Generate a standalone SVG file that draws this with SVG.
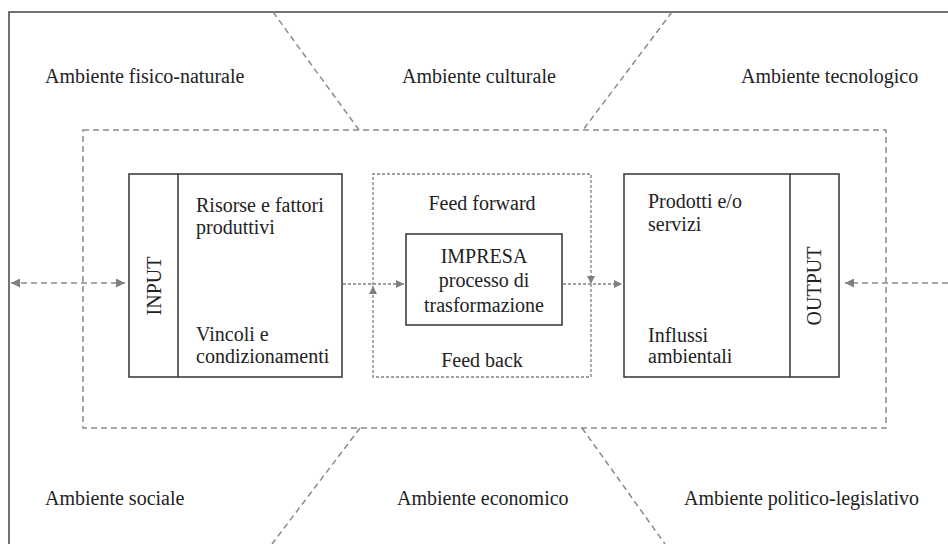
<svg xmlns="http://www.w3.org/2000/svg" width="948" height="544" viewBox="0 0 948 544" font-family="'Liberation Serif', 'Times New Roman', 'DejaVu Serif', serif">
<defs>
<marker id="ah" viewBox="0 0 10 10" refX="10" refY="5" markerWidth="9" markerHeight="9" markerUnits="userSpaceOnUse" orient="auto-start-reverse">
<path d="M0,0 L10,5 L0,10 z" fill="#808080"/>
</marker>
<marker id="ahs" viewBox="0 0 10 10" refX="10" refY="5" markerWidth="8" markerHeight="8" markerUnits="userSpaceOnUse" orient="auto">
<path d="M0,0 L10,5 L0,10 z" fill="#808080"/>
</marker>
</defs>
<style>
text{font-family:'Liberation Serif','Times New Roman','DejaVu Serif',serif;font-size:20px;fill:#222}
.box{fill:#fff;stroke:#333;stroke-width:1.5}
.frame{fill:none;stroke:#444;stroke-width:1.5}
.dash{fill:none;stroke:#8a8a8a;stroke-width:1.5;stroke-dasharray:6 4}
.dot{fill:none;stroke:#808080;stroke-width:1.3;stroke-dasharray:3 2}
.mid{text-anchor:middle}
</style>
<rect width="948" height="544" fill="#fff"/>
<g id="frame">
<path class="frame" d="M948,12 L9,12 L9,544"/>
</g>
<g id="environment">
<rect class="dash" x="83" y="130" width="803" height="298"/>
<line class="dash" x1="273" y1="12" x2="359" y2="130"/>
<line class="dash" x1="672" y1="12" x2="583" y2="130"/>
<line class="dash" x1="360" y1="428" x2="272" y2="544"/>
<line class="dash" x1="582" y1="428" x2="665" y2="544"/>
<text x="45" y="83">Ambiente fisico-naturale</text>
<text x="402" y="83">Ambiente culturale</text>
<text x="741" y="83">Ambiente tecnologico</text>
<text x="45" y="505">Ambiente sociale</text>
<text x="397" y="505">Ambiente economico</text>
<text x="684" y="505">Ambiente politico-legislativo</text>
</g>
<g id="connectors">
<line class="dash" x1="11" y1="283" x2="125" y2="283" marker-start="url(#ah)" marker-end="url(#ah)"/>
<line class="dash" x1="948" y1="283" x2="845" y2="283" marker-end="url(#ah)"/>
<line class="dot" x1="343" y1="284" x2="404" y2="284" marker-end="url(#ahs)"/>
<line class="dot" x1="563" y1="284" x2="622" y2="284" marker-end="url(#ahs)"/>
<path class="dot" d="M373,285 L373,174 L591,174 L591,284" marker-end="url(#ahs)"/>
<path class="dot" d="M591,284 L591,377 L373,377 L373,286" marker-end="url(#ahs)"/>
</g>
<g id="input">
<rect class="box" x="129" y="174" width="213" height="203"/>
<line class="box" x1="178" y1="174" x2="178" y2="377"/>
<text class="mid" transform="translate(161,286) rotate(-90)">INPUT</text>
<text x="196" y="212">Risorse e fattori</text>
<text x="196" y="234">produttivi</text>
<text x="196" y="341">Vincoli e</text>
<text x="196" y="363">condizionamenti</text>
</g>
<g id="impresa">
<text class="mid" x="482" y="210">Feed forward</text>
<rect class="box" x="406" y="234" width="156" height="91"/>
<text class="mid" x="484" y="263">IMPRESA</text>
<text class="mid" x="484" y="287">processo di</text>
<text class="mid" x="484" y="312">trasformazione</text>
<text class="mid" x="482" y="367">Feed back</text>
</g>
<g id="output">
<rect class="box" x="624" y="174" width="215" height="203"/>
<line class="box" x1="790" y1="174" x2="790" y2="377"/>
<text class="mid" transform="translate(821,286) rotate(-90)">OUTPUT</text>
<text x="648" y="208">Prodotti e/o</text>
<text x="648" y="231">servizi</text>
<text x="648" y="342">Influssi</text>
<text x="648" y="363">ambientali</text>
</g>
</svg>
